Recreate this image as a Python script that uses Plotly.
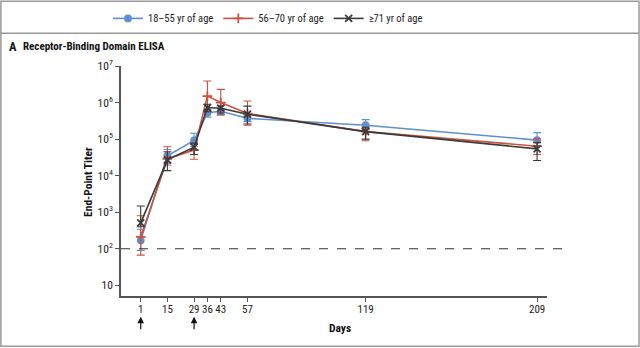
import plotly.graph_objects as go

days = [1, 15, 29, 36, 43, 57, 119, 209]
series_names = ["18–55 yr of age", "56–70 yr of age", "≥71 yr of age"]

young_mean = [170, 35000, 92000, 530000, 580000, 370000, 240000, 94000]
young_hi = [340, 52000, 145000, 650000, 680000, 460000, 340000, 150000]
young_lo = [90, 22000, 62000, 400000, 470000, 300000, 190000, 62000]

mid_mean = [210, 29000, 50000, 1500000, 1000000, 500000, 160000, 64000]
mid_hi = [800, 62000, 75000, 3900000, 2300000, 1100000, 190000, 100000]
mid_lo = [67, 19500, 28000, 560000, 450000, 240000, 90000, 38000]

old_mean = [510, 27000, 60000, 730000, 700000, 480000, 160000, 54000]
old_hi = [1480, 45000, 78000, 900000, 820000, 800000, 210000, 80000]
old_lo = [400, 13700, 38000, 560000, 520000, 260000, 100000, 26000]

colors = ["#5f8fcf", "#c9533d", "#3a3a3a"]
symbols = ["circle", "cross-thin-open", "x-thin-open"]

y_tickvals = [10, 100, 1e3, 1e4, 1e5, 1e6, 1e7]
y_ticktext = ["10", "10<sup>2</sup>", "10<sup>3</sup>", "10<sup>4</sup>",
              "10<sup>5</sup>", "10<sup>6</sup>", "10<sup>7</sup>"]
arrow_days = [1, 29]
lod = 100

FONT = "Liberation Sans Narrow, Roboto Condensed, Lato, sans-serif"

fig = go.Figure()
data = [(young_mean, young_hi, young_lo), (mid_mean, mid_hi, mid_lo), (old_mean, old_hi, old_lo)]
for i, (m, hi, lo) in enumerate(data):
    up = [h - v for h, v in zip(hi, m)]
    dn = [v - l for v, l in zip(m, lo)]
    fig.add_trace(go.Scatter(
        x=days, y=m, mode="lines+markers", name=series_names[i],
        line=dict(color=colors[i], width=1.6),
        marker=dict(symbol=symbols[i], size=6 if i == 0 else 7, color=colors[i],
                    line=dict(color=colors[i], width=1.8)),
        error_y=dict(type="data", symmetric=False, array=up, arrayminus=dn,
                     color=colors[i], thickness=1.1, width=4),
    ))

fig.update_layout(
    width=640, height=348,
    margin=dict(l=121, r=93, t=66, b=52, autoexpand=False),
    paper_bgcolor="white", plot_bgcolor="white",
    font=dict(family=FONT, size=11, color="#222"),
    showlegend=True,
    legend=dict(orientation="h", x=0.345, y=1.207, xanchor="center", yanchor="middle",
                font=dict(size=10.5, family=FONT), tracegroupgap=0,
                bgcolor="rgba(0,0,0,0)"),
    xaxis=dict(range=[-9.35, 214.2], tickvals=days, ticktext=[str(d) for d in days],
               ticks="outside", ticklen=4, tickcolor="#555", showline=True,
               linecolor="#555", linewidth=1.5, showgrid=False, zeroline=False,
               ticklabelstandoff=-2,
               tickfont=dict(size=11, family=FONT)),
    yaxis=dict(type="log", range=[0.707, 7], tickvals=y_tickvals, ticktext=y_ticktext,
               ticks="outside", ticklen=4, tickcolor="#555", showline=True,
               linecolor="#555", linewidth=1.5, showgrid=False, zeroline=False,
               tickfont=dict(size=11.5, family=FONT)),
)

# reference line (limit of detection)
fig.add_shape(type="line", xref="paper", yref="y", x0=0, x1=1.037, y0=lod, y1=lod,
              line=dict(color="#333", width=1.2, dash="dash"))

# frame lines
frame = dict(color="#9a9a9a", width=1.5)
fig.add_shape(type="rect", xref="paper", yref="paper", x0=-0.282, x1=1.216, y0=-0.218, y1=1.281,
              line=frame)
fig.add_shape(type="line", xref="paper", yref="paper", x0=-0.282, x1=1.216, y0=1.142, y1=1.142,
              line=frame)

# panel title
fig.add_annotation(xref="paper", yref="paper", x=-0.268, y=1.083, xanchor="left", yanchor="middle",
                   text="<b>A</b>", showarrow=False, font=dict(size=12.5, family=FONT, color="#111"))
fig.add_annotation(xref="paper", yref="paper", x=-0.235, y=1.083, xanchor="left", yanchor="middle",
                   text="<b>Receptor-Binding Domain ELISA</b>", showarrow=False,
                   font=dict(size=11, family=FONT, color="#111"))

# axis titles
fig.add_annotation(xref="paper", yref="paper", x=-0.078, y=0.495, xanchor="center", yanchor="middle",
                   text="<b>End-Point Titer</b>", textangle=-90, showarrow=False,
                   font=dict(size=11.5, family=FONT, color="#111"))
fig.add_annotation(xref="paper", yref="paper", x=0.515, y=-0.137, xanchor="center", yanchor="middle",
                   text="<b>Days</b>", showarrow=False, font=dict(size=11.5, family=FONT, color="#111"))

# vaccination arrows
for d in arrow_days:
    fig.add_annotation(x=d, xref="x", yref="paper", y=-0.09, text="", showarrow=True,
                       arrowhead=2, arrowsize=1.1, arrowwidth=1.2, arrowcolor="#111",
                       ax=0, ay=14, axref="pixel", ayref="pixel")

fig.write_html("out.html")
